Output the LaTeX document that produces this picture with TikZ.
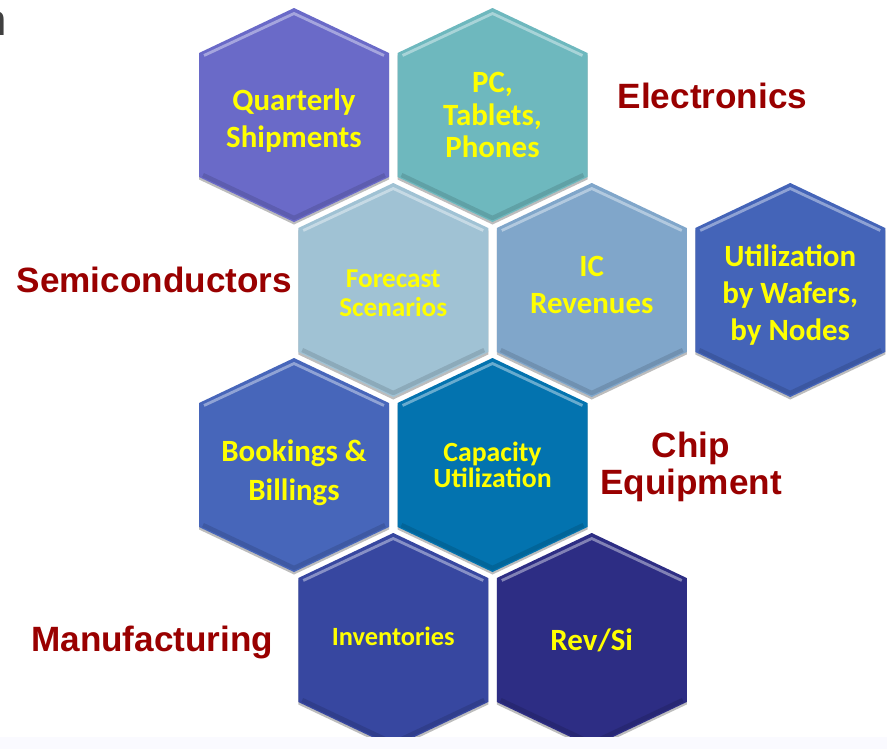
\documentclass[tikz,border=0pt]{standalone}
\usepackage{fontspec}
\usepackage{tikz}
\usetikzlibrary{positioning}
\newfontfamily\cellfont{Carlito}
\newfontfamily\catfont{Liberation Sans}
\definecolor{catred}{HTML}{990000}
\definecolor{cellyellow}{HTML}{FFFF00}
\definecolor{rimgray}{HTML}{BDBDBD}
\definecolor{qshipblue}{HTML}{6A6AC8}
\definecolor{pcteal}{HTML}{6EB8BE}
\definecolor{fcastblue}{HTML}{A0C2D4}
\definecolor{icrevblue}{HTML}{80A6CA}
\definecolor{utilblue}{HTML}{4464B8}
\definecolor{bookblue}{HTML}{4766BA}
\definecolor{capblue}{HTML}{0373AF}
\definecolor{invblue}{HTML}{3747A0}
\definecolor{revsiblue}{HTML}{2D2D84}
\pgfdeclarelayer{background}
\pgfsetlayers{background,main}
\tikzset{
    hexpath/.style={
           insert path={(0,2.14) -- (1.9,1.24) -- (1.9,-1.24) -- (0,-2.14)
                        -- (-1.9,-1.24) -- (-1.9,1.24) -- cycle},
           },
    hexcell/.style={
           inner sep=0pt,
           align=center,
           text=cellyellow,
           font=\cellfont\bfseries\fontsize{17.6}{21}\selectfont,
           },
    category/.style={
           text=catred,
           font=\catfont\bfseries\fontsize{20}{21}\selectfont,
           align=center,
           inner sep=0pt,
           },
}

\begin{document}
\begin{tikzpicture}
        % page frame, faint band at the foot
        \fill[blue!2] (0,-14.74) rectangle (17.74,-14.98);
        \useasboundingbox (0,0) rectangle (17.74,-14.98);

        % cut-off title letter
        \node[anchor=base east, inner sep=0pt, text=black!75,
            font=\catfont\fontsize{25}{25}\selectfont] (T_FRAG) at (0.14,-0.7) {n};

        % ROW 1
        % texts sit a little off the middle of some cells,
        % the hexagons below take the shift back (\dy)
        \node[hexcell] (C_QSHIP) at (5.88,-2.42)
        {Quarterly\\Shipments};

        \node[hexcell,
            font=\cellfont\bfseries\fontsize{17.6}{18.4}\selectfont,
            right of=C_QSHIP,
            yshift=0.12cm,
            node distance=3.97cm,
            anchor=center] (C_PCTAB)
        {PC,\\Tablets,\\Phones};

        % ROW 2
        \node[hexcell,
            font=\cellfont\bfseries\fontsize{15.5}{16.4}\selectfont,
            below of=C_QSHIP,
            xshift=1.985cm,
            yshift=0.06cm,
            node distance=3.5cm,
            anchor=center] (C_FCAST)
        {Forecast\\Scenarios};

        \node[hexcell,
            right of=C_FCAST,
            yshift=0.16cm,
            node distance=3.97cm,
            anchor=center] (C_ICREV)
        {IC\\Revenues};

        \node[hexcell,
            right of=C_ICREV,
            yshift=-0.2cm,
            node distance=3.97cm,
            anchor=center] (C_UTIL)
        {Utilization\\by Wafers,\\by Nodes};

        % ROW 3
        \node[hexcell,
            font=\cellfont\bfseries\fontsize{17.6}{22}\selectfont,
            below of=C_FCAST,
            xshift=-1.985cm,
            yshift=-0.1cm,
            node distance=3.5cm,
            anchor=center] (C_BOOK)
        {Bookings \&\\Billings};

        \node[hexcell,
            font=\cellfont\bfseries\fontsize{15.8}{14.8}\selectfont,
            right of=C_BOOK,
            yshift=0.16cm,
            node distance=3.97cm,
            anchor=center] (C_CAP)
        {Capacity\\Utilization};

        % ROW 4
        \node[hexcell,
            font=\cellfont\bfseries\fontsize{15}{16}\selectfont,
            below of=C_BOOK,
            xshift=1.985cm,
            yshift=0.24cm,
            node distance=3.5cm,
            anchor=center] (C_INV)
        {Inventories};

        \node[hexcell,
            right of=C_INV,
            yshift=-0.08cm,
            node distance=3.97cm,
            anchor=center] (C_REVSI)
        {Rev/Si};

        % category labels around the cells
        \node[category, right of=C_PCTAB, node distance=4.4cm, yshift=0.38cm] (L_ELEC) {Electronics};
        \node[category, left of=C_FCAST, node distance=4.78cm, yshift=0.26cm] (L_SEMI) {Semiconductors};
        \node[category, right of=C_CAP, node distance=3.97cm, yshift=-0.04cm] (L_CHIP) {Chip\\Equipment};
        \node[category, left of=C_INV, node distance=4.82cm, yshift=-0.12cm] (L_MANU) {Manufacturing};

        % the hexagon cells, behind their texts
        \begin{pgfonlayer}{background}
        \foreach \cell/\col/\dy in {C_QSHIP/qshipblue/0.12, C_PCTAB/pcteal/0,
                C_FCAST/fcastblue/0.06, C_ICREV/icrevblue/-0.1, C_UTIL/utilblue/0.1,
                C_BOOK/bookblue/0.16, C_CAP/capblue/0,
                C_INV/invblue/-0.08, C_REVSI/revsiblue/0}{
            \begin{scope}[shift={(\cell.center)}, yshift=\dy cm]
            \fill[rimgray, yshift=-0.05cm, hexpath];
            \fill[\col, hexpath];
            \draw[white, opacity=.4, line width=1.6pt, line join=round]
                (-1.8,1.19) -- (0,2.03) -- (1.8,1.19);
            \draw[black, opacity=.12, line width=2.5pt, line join=round]
                (-1.82,-1.2) -- (0,-2.06) -- (1.82,-1.2);
            \end{scope}
        }
        \end{pgfonlayer}

\end{tikzpicture}
\end{document}
